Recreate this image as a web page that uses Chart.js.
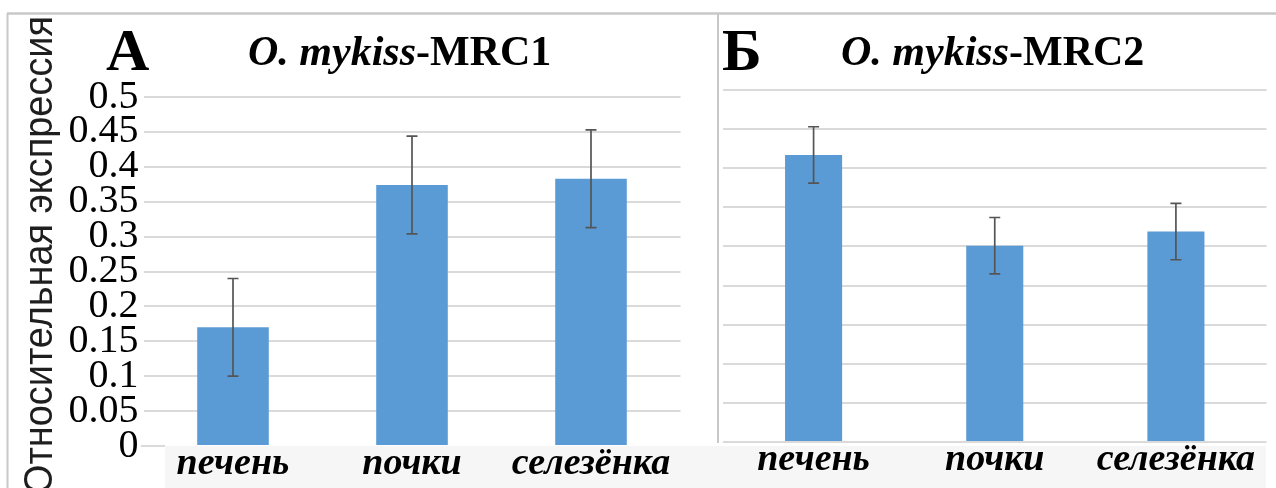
<!DOCTYPE html>
<html>
<head>
<meta charset="utf-8">
<script src="https://cdn.jsdelivr.net/npm/chart.js@4/dist/chart.umd.min.js"></script>
<style>
  body { margin: 0; background: #fff; }
  #wrap { position: relative; width: 1276px; height: 488px; overflow: hidden; }
  canvas { position: absolute; top: 0; }
  #mrc1 { left: 0; }
  #mrc2 { left: 700px; }
</style>
</head>
<body>
<div id="wrap">
  <canvas id="mrc1" width="700" height="488"></canvas>
  <canvas id="mrc2" width="576" height="488"></canvas>
</div>
<script>
var categories = ['печень', 'почки', 'селезёнка'];

// MRC1: mean and error per tissue
var mrc1Values = [0.17, 0.374, 0.383];
var mrc1Errors = [0.07, 0.07, 0.07];

// MRC2
var mrc2Values = [0.367, 0.251, 0.269];
var mrc2Errors = [0.036, 0.036, 0.036];

var yStep = 0.05;
var mrc1Max = 0.5;
var mrc2Max = 0.45;

var barBlue = '#5b9bd5';
var gridGrey = '#dadada';
var frameGrey = '#c8c8c8';
var bandGrey = '#f6f6f6';
var serif = "'Liberation Serif', 'Times New Roman', serif";
var sans = "'Liberation Sans', Arial, sans-serif";

// whiskers drawn from each dataset's errors array
var errorBars = {
    id: 'errorBars',
    afterDatasetsDraw: function(chart) {
        var ctx = chart.ctx;
        var y = chart.scales.y;
        chart.data.datasets.forEach(function(ds, i) {
            var meta = chart.getDatasetMeta(i);
            meta.data.forEach(function(bar, j) {
                var top = y.getPixelForValue(ds.data[j] + ds.errors[j]);
                var bot = y.getPixelForValue(ds.data[j] - ds.errors[j]);
                ctx.save();
                ctx.strokeStyle = '#555';
                ctx.lineWidth = 1.7;
                ctx.beginPath();
                ctx.moveTo(bar.x, top); ctx.lineTo(bar.x, bot);
                ctx.moveTo(bar.x - 5.5, top); ctx.lineTo(bar.x + 5.5, top);
                ctx.moveTo(bar.x - 5.5, bot); ctx.lineTo(bar.x + 5.5, bot);
                ctx.stroke();
                ctx.restore();
            });
        });
    }
};

// frame lines, label band, panel letter and title
var panelDecor = {
    id: 'panelDecor',
    beforeDraw: function(chart, args, opts) {
        var ctx = chart.ctx;
        ctx.save();
        ctx.fillStyle = bandGrey;
        ctx.fillRect(opts.band[0], 446, opts.band[1] - opts.band[0], 42);
        if (opts.zeroStub) {
            ctx.strokeStyle = gridGrey;
            ctx.lineWidth = 2;
            ctx.beginPath();
            ctx.moveTo(opts.zeroStub[0], 446);
            ctx.lineTo(opts.zeroStub[1], 446);
            ctx.stroke();
        }
        ctx.restore();
    },
    afterDraw: function(chart, args, opts) {
        var ctx = chart.ctx;
        ctx.save();
        ctx.strokeStyle = frameGrey;
        ctx.lineWidth = 2.5;
        ctx.beginPath();
        ctx.moveTo(opts.frameLeft, 13.5);
        ctx.lineTo(chart.width, 13.5);
        ctx.stroke();
        ctx.lineWidth = 2;
        ctx.beginPath();
        ctx.moveTo(opts.vline[0], 13.5);
        ctx.lineTo(opts.vline[0], opts.vline[1]);
        ctx.stroke();

        ctx.fillStyle = '#000';
        ctx.textBaseline = 'alphabetic';
        ctx.textAlign = 'left';
        ctx.font = 'bold 60px ' + serif;
        ctx.fillText(opts.letter, opts.letterX, 70);

        ctx.font = 'italic bold 42px ' + serif;
        ctx.fillText('O. mykiss', opts.titleX, 65);
        var w = ctx.measureText('O. mykiss').width;
        ctx.font = 'bold 42px ' + serif;
        ctx.fillText(opts.titleRest, opts.titleX + w, 65);

        if (opts.yTitle) {
            // vertical axis title, squeezed slightly along its length
            ctx.translate(52, 255);
            ctx.rotate(-Math.PI / 2);
            ctx.font = '41px ' + sans;
            var len = ctx.measureText(opts.yTitle).width;
            ctx.scale(478 / len, 1);
            ctx.textAlign = 'center';
            ctx.fillStyle = '#1e1e1e';
            ctx.fillText(opts.yTitle, 0, 0);
        }
        ctx.restore();
    }
};

function makeOptions(cfg) {
    return {
        responsive: false,
        animation: false,
        events: [],
        layout: { padding: { top: cfg.top, right: cfg.right, bottom: 0, left: 0 } },
        plugins: {
            legend: { display: false },
            tooltip: { enabled: false },
            panelDecor: cfg.decor
        },
        scales: {
            x: {
                grid: { display: false },
                border: { display: false },
                ticks: {
                    color: '#000',
                    padding: 1,
                    maxRotation: 0,
                    font: { family: serif, size: 38, style: 'italic', weight: 'bold', lineHeight: 0.5 }
                },
                afterFit: function(s) { s.height = cfg.xHeight; }
            },
            y: {
                min: 0,
                max: cfg.max,
                border: { display: false },
                grid: {
                    color: function(c) { return (cfg.hideZero && c.tick.value === 0) ? 'rgba(0,0,0,0)' : gridGrey; },
                    lineWidth: 2,
                    drawTicks: false
                },
                ticks: {
                    display: cfg.showTicks,
                    stepSize: yStep,
                    autoSkip: false,
                    color: '#000',
                    padding: 5,
                    font: { family: serif, size: 40, lineHeight: 1 },
                    callback: function(v) { return String(+v.toFixed(2)); }
                },
                afterFit: function(s) { s.width = cfg.yWidth; }
            }
        }
    };
}

new Chart(document.getElementById('mrc1').getContext('2d'), {
    type: 'bar',
    data: {
        labels: categories,
        datasets: [{
            data: mrc1Values,
            errors: mrc1Errors,
            backgroundColor: barBlue,
            borderWidth: 0,
            categoryPercentage: 1,
            barPercentage: 0.40
        }]
    },
    options: makeOptions({
        top: 97, right: 19.5, xHeight: 42, yWidth: 143.5, max: mrc1Max,
        showTicks: true, hideZero: true,
        decor: {
            band: [165, 700], zeroStub: [141, 165],
            frameLeft: 7, vline: [7.5, 488],
            letter: 'А', letterX: 106,
            titleX: 248, titleRest: '-MRC1',
            yTitle: 'Относительная экспрессия'
        }
    }),
    plugins: [panelDecor, errorBars]
});

new Chart(document.getElementById('mrc2').getContext('2d'), {
    type: 'bar',
    data: {
        labels: categories,
        datasets: [{
            data: mrc2Values,
            errors: mrc2Errors,
            backgroundColor: barBlue,
            borderWidth: 0,
            categoryPercentage: 1,
            barPercentage: 0.315
        }]
    },
    options: makeOptions({
        top: 90, right: 9.5, xHeight: 46, yWidth: 23, max: mrc2Max,
        showTicks: false, hideZero: false,
        decor: {
            band: [0, 566],
            frameLeft: 0, vline: [18, 443],
            letter: 'Б', letterX: 22,
            titleX: 141, titleRest: '-MRC2'
        }
    }),
    plugins: [panelDecor, errorBars]
});
</script>
</body>
</html>
